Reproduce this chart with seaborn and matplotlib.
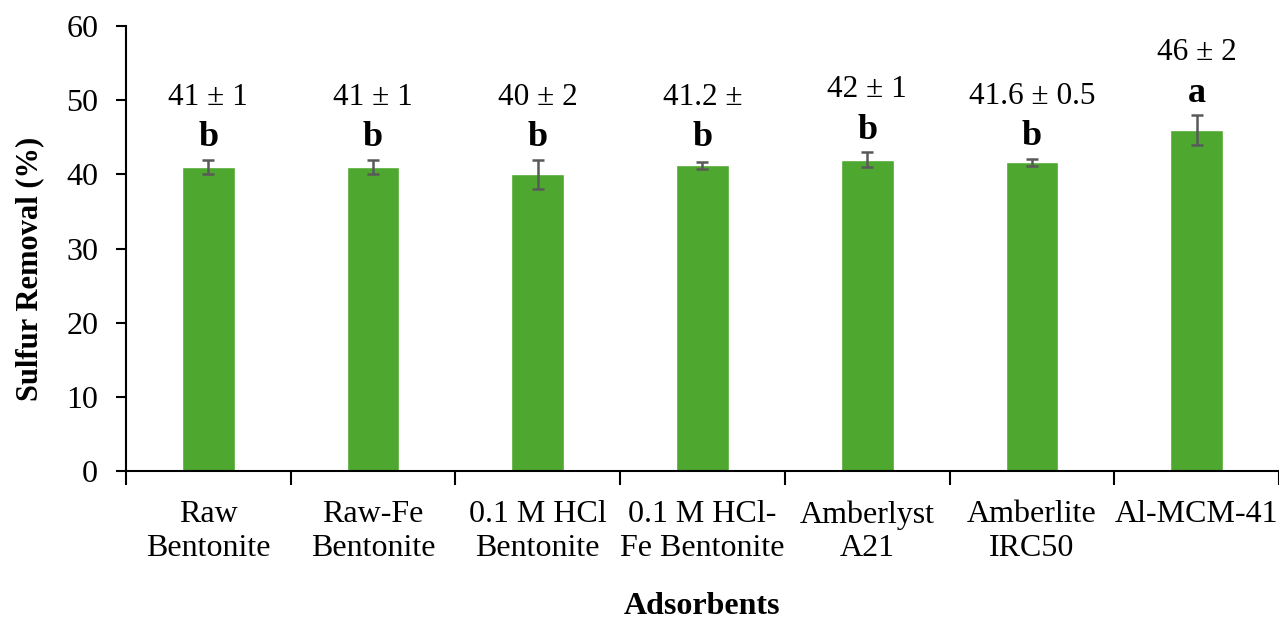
import matplotlib
matplotlib.use("Agg")
import matplotlib.pyplot as plt
import seaborn as sns
import numpy as np
import pandas as pd
from matplotlib.ticker import FixedLocator

categories = ["Raw\nBentonite", "Raw-Fe\nBentonite", "0.1 M HCl\nBentonite",
              "0.1 M HCl-\nFe Bentonite", "Amberlyst\nA21", "Amberlite\nIRC50", "Al-MCM-41"]
removal = [41, 41, 40, 41.2, 42, 41.6, 46]
errors = [1, 1, 2, 0.5, 1, 0.5, 2]
value_labels = ["41 ± 1", "41 ± 1", "40 ± 2", "41.2 ±", "42 ± 1", "41.6 ± 0.5", "46 ± 2"]
group_letters = ["b", "b", "b", "b", "b", "b", "a"]

sns.set_theme(style="white")
plt.rcParams["font.family"] = ["Liberation Serif", "DejaVu Serif"]

df = pd.DataFrame({"Adsorbent": categories, "Removal": removal})

fig = plt.figure(figsize=(12.79, 6.2), dpi=100)
ax = fig.add_axes([0.0985, 0.2403, 0.9015, 0.7177])

sns.barplot(data=df, x="Adsorbent", y="Removal", color="#4EA72E", saturation=1,
            width=0.32, errorbar=None, ax=ax)
xpos = np.arange(len(categories))
ax.errorbar(xpos, removal, yerr=errors, fmt="none", ecolor="#595959",
            elinewidth=1.8, capsize=4.5, capthick=1.8)

for x, m, e, vl, gl in zip(xpos, removal, errors, value_labels, group_letters):
    top = max(m + e, 42)
    ax.text(x, top + 7.4, vl, ha="center", va="baseline", fontsize=22.5, color="black")
    ax.text(x, top + 1.8, gl, ha="center", va="baseline", fontsize=26,
            fontweight="bold", color="black")

ax.set_ylim(0, 60)
ax.set_yticks(range(0, 61, 10))
ax.set_xlim(-0.5, len(categories) - 0.5)
ax.xaxis.set_minor_locator(FixedLocator(np.arange(-0.5, len(categories), 1.0)))
ax.tick_params(axis="x", which="major", length=0, pad=21, labelsize=23, colors="black")
ax.tick_params(axis="x", which="minor", length=10, width=1.5, direction="out",
               bottom=True, color="black")
ax.tick_params(axis="y", which="major", length=7, width=1.5, direction="out",
               left=True, labelsize=23, colors="black", pad=13)

for s in ["top", "right"]:
    ax.spines[s].set_visible(False)
for s in ["left", "bottom"]:
    ax.spines[s].set_color("black")
    ax.spines[s].set_linewidth(1.5)

ax.set_xlabel("Adsorbents", fontsize=23, fontweight="bold", color="black")
ax.set_ylabel("Sulfur Removal (%)", fontsize=22, fontweight="bold", color="black")
ax.xaxis.set_label_coords(0.5, -0.271)
ax.yaxis.set_label_coords(-0.0705, 0.454)

fig.savefig("out.png", dpi=100)
